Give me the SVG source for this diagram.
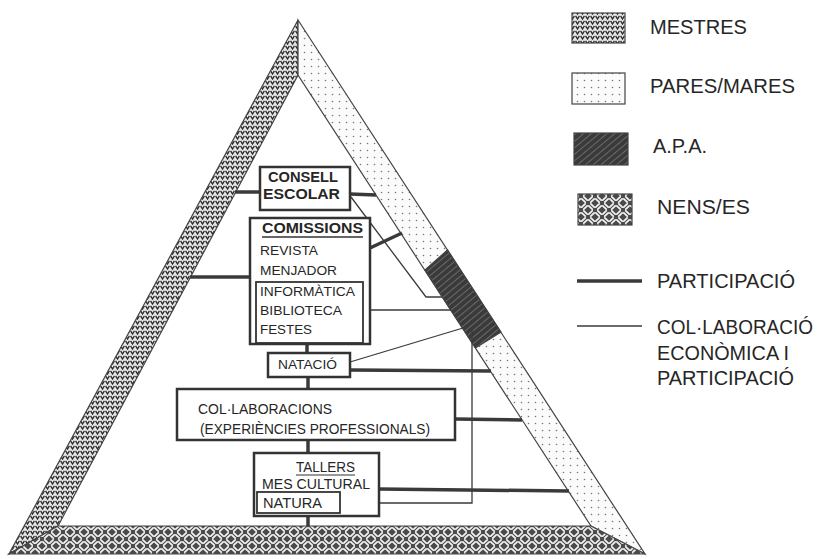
<svg xmlns="http://www.w3.org/2000/svg" width="822" height="559" viewBox="0 0 822 559">
<style>
.t{font-family:"Liberation Sans",Arial,sans-serif;fill:#262626}
.lg{font-size:20px}
.bx{fill:#fff;stroke:#333;stroke-width:2.5}
.in{fill:none;stroke:#333;stroke-width:1.8}
.b{font-size:14px;font-weight:bold}
.r{font-size:13px}
.thick{stroke:#3a3a3a;stroke-width:3.5;fill:none}
.thin{stroke:#3a3a3a;stroke-width:1.3;fill:none}
.band{stroke:#444;stroke-width:1.2}
</style>
<defs>
<pattern id="pMes" width="5" height="5" patternUnits="userSpaceOnUse">
<rect width="5" height="5" fill="#e6e6e6"/>
<path d="M0.6,0.8 L2.5,4 L4.4,0.8" stroke="#2a2a2a" stroke-width="1.3" fill="none"/>
</pattern>
<pattern id="pPar" width="7" height="7" patternUnits="userSpaceOnUse">
<rect width="7" height="7" fill="#fbfbfb"/>
<circle cx="3.5" cy="3.5" r="0.8" fill="#777"/>
</pattern>
<pattern id="pApa" width="5" height="5" patternUnits="userSpaceOnUse" patternTransform="rotate(-40)">
<rect width="5" height="5" fill="#3a3a3a"/>
<line x1="0" y1="2.5" x2="5" y2="2.5" stroke="#6a6a6a" stroke-width="1"/>
</pattern>
<pattern id="pNen" width="14" height="14" patternUnits="userSpaceOnUse">
<rect width="14" height="14" fill="#4a4a4a"/>
<path d="M0.8,4.2 L4.2,0.8 M2.8,6.2 L6.2,2.8 M7.8,2.8 L11.2,6.2 M9.8,0.8 L13.2,4.2 M0.8,9.8 L4.2,13.2 M2.8,7.8 L6.2,11.2 M7.8,11.2 L11.2,7.8 M9.8,13.2 L13.2,9.8" stroke="#f4f4f4" stroke-width="1.7" stroke-linecap="round"/>
</pattern>
</defs>
<rect width="822" height="559" fill="#fff"/>

<g id="pyramid">
<polygon id="band-mestres" class="band" points="298,20 298,75 58,526 9,554" fill="url(#pMes)"/>
<polygon id="band-pares" class="band" points="298,20 645,554 591,526 298,75" fill="url(#pPar)"/>
<polygon id="band-apa" class="band" points="425,270 447.5,250 501,332 475.5,348" fill="url(#pApa)"/>
<polygon id="band-nens" class="band" points="58,526 591,526 645,554 9,554" fill="url(#pNen)"/>
</g>

<g id="connectors">
<line class="thick" x1="235" y1="192" x2="260" y2="192"/>
<line class="thick" x1="350" y1="194" x2="376" y2="195"/>
<line class="thick" x1="190" y1="277" x2="250" y2="277"/>
<line class="thick" x1="370" y1="248" x2="402" y2="233"/>
<line class="thick" x1="307" y1="344" x2="307" y2="353"/>
<line class="thick" x1="350" y1="370" x2="491" y2="371"/>
<line class="thick" x1="308" y1="377" x2="308" y2="389"/>
<line class="thick" x1="455" y1="419" x2="522" y2="420"/>
<line class="thick" x1="308" y1="440" x2="308" y2="453"/>
<line class="thick" x1="379" y1="489" x2="569" y2="491"/>
<line class="thick" x1="308" y1="516" x2="308" y2="526"/>
<polyline class="thin" points="351,197 426,297 442,297"/>
<line class="thin" x1="363" y1="310" x2="451" y2="310"/>
<line class="thin" x1="350" y1="362" x2="463" y2="328"/>
<polyline class="thin" points="340,503 472,503 472,330"/>
</g>

<g id="consell">
<rect class="bx" x="260" y="167" width="90" height="43"/>
<text class="t b" x="268" y="182" textLength="70" lengthAdjust="spacingAndGlyphs">CONSELL</text>
<text class="t b" x="263" y="199" textLength="77" lengthAdjust="spacingAndGlyphs">ESCOLAR</text>
</g>

<g id="comissions">
<rect class="bx" x="250" y="218" width="120" height="126"/>
<text class="t b" x="262" y="233" textLength="101" lengthAdjust="spacingAndGlyphs">COMISSIONS</text>
<line x1="262" y1="237" x2="363" y2="237" stroke="#333" stroke-width="1.3"/>
<text class="t r" x="260" y="255" textLength="58" lengthAdjust="spacingAndGlyphs">REVISTA</text>
<text class="t r" x="260" y="275" textLength="77" lengthAdjust="spacingAndGlyphs">MENJADOR</text>
<rect class="in" x="256" y="282" width="107" height="61"/>
<text class="t r" x="260" y="296" textLength="95" lengthAdjust="spacingAndGlyphs">INFORMÀTICA</text>
<text class="t r" x="260" y="315" textLength="82" lengthAdjust="spacingAndGlyphs">BIBLIOTECA</text>
<text class="t r" x="260" y="334" textLength="52" lengthAdjust="spacingAndGlyphs">FESTES</text>
</g>

<g id="natacio">
<rect class="bx" x="268" y="353" width="82" height="24"/>
<text class="t r" x="278" y="369" textLength="59" lengthAdjust="spacingAndGlyphs">NATACIÓ</text>
</g>

<g id="collaboracions">
<rect class="bx" x="177" y="389" width="278" height="51"/>
<text class="t" font-size="14" x="198" y="414" textLength="134" lengthAdjust="spacingAndGlyphs">COL·LABORACIONS</text>
<text class="t" font-size="14" x="200" y="434" textLength="230" lengthAdjust="spacingAndGlyphs">(EXPERIÈNCIES PROFESSIONALS)</text>
</g>

<g id="tallers">
<rect class="bx" x="254" y="453" width="125" height="63"/>
<text class="t" font-size="14" x="296" y="472" textLength="59" lengthAdjust="spacingAndGlyphs">TALLERS</text>
<line x1="296" y1="475" x2="355" y2="475" stroke="#333" stroke-width="1.2"/>
<text class="t" font-size="14" x="262" y="489" textLength="108" lengthAdjust="spacingAndGlyphs">MES CULTURAL</text>
<rect class="in" x="257" y="492" width="83" height="21"/>
<text class="t" font-size="14" x="263" y="508" textLength="59" lengthAdjust="spacingAndGlyphs">NATURA</text>
</g>

<g id="legend">
<g id="leg-mestres">
<rect x="572" y="13" width="53" height="30" fill="url(#pMes)" stroke="#444" stroke-width="1.2"/>
<text class="t lg" x="650" y="34" textLength="97" lengthAdjust="spacingAndGlyphs">MESTRES</text>
</g>
<g id="leg-pares">
<rect x="572" y="73" width="53" height="31" fill="url(#pPar)" stroke="#444" stroke-width="1.2"/>
<text class="t lg" x="650" y="93" textLength="145" lengthAdjust="spacingAndGlyphs">PARES/MARES</text>
</g>
<g id="leg-apa">
<rect x="574" y="133" width="54" height="32" fill="url(#pApa)" stroke="#444" stroke-width="1.2"/>
<text class="t lg" x="653" y="153" textLength="54" lengthAdjust="spacingAndGlyphs">A.P.A.</text>
</g>
<g id="leg-nens">
<rect x="578" y="194" width="54" height="31" fill="url(#pNen)" stroke="#444" stroke-width="1.2"/>
<text class="t lg" x="657" y="214" textLength="93" lengthAdjust="spacingAndGlyphs">NENS/ES</text>
</g>
<g id="leg-particip">
<line class="thick" x1="577" y1="281" x2="642" y2="281"/>
<text class="t lg" x="657" y="288" textLength="138" lengthAdjust="spacingAndGlyphs">PARTICIPACIÓ</text>
</g>
<g id="leg-collab">
<line class="thin" x1="577" y1="326" x2="642" y2="326"/>
<text class="t lg" x="657" y="334" textLength="156" lengthAdjust="spacingAndGlyphs">COL·LABORACIÓ</text>
<text class="t lg" x="657" y="360" textLength="132" lengthAdjust="spacingAndGlyphs">ECONÒMICA I</text>
<text class="t lg" x="657" y="385" textLength="137" lengthAdjust="spacingAndGlyphs">PARTICIPACIÓ</text>
</g>
</g>
</svg>
